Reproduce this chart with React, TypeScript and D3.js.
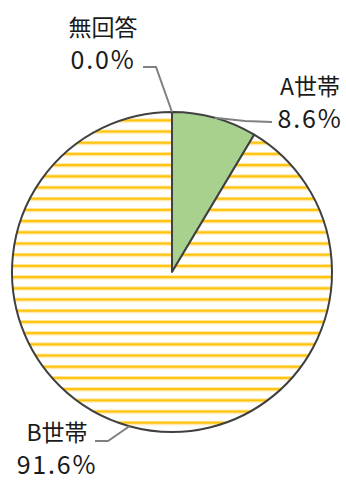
import React from "react";
import * as d3 from "d3";

const categories = ["A世帯", "B世帯", "無回答"];
const values = [8.6, 91.6, 0.0];
const valueLabels = ["8.6%", "91.6%", "0.0%"];

const W = 346;
const H = 481;
const cx = 172;
const cy = 272;
const R = 160;

// label layout: text anchor center, first baseline, leader elbow and end
const labelLayout = [
  { tx: 310, ty: 95, gap: 33, elbow: [245, 121], end: [272, 122] },
  { tx: 57, ty: 441, gap: 33, elbow: [108, 441], end: [95, 441] },
  { tx: 103, ty: 36, gap: 33, elbow: [156, 67], end: [143, 67] },
];

export default function App() {
  const pie = d3
    .pie<number>()
    .sort(null)
    .value((d) => d)
    .startAngle(0)
    .endAngle(2 * Math.PI);
  const arcs = pie(values);
  const arc = d3.arc<d3.PieArcDatum<number>>().innerRadius(0).outerRadius(R);
  const fills = ["#A9D18E", "url(#stripes)", "#ffffff"];
  const lineGen = d3.line();

  return (
    <svg width={W} height={H} style={{ position: "absolute", left: 0, top: 0 }}>
      <defs>
        <pattern id="stripes" patternUnits="userSpaceOnUse" width={20} height={11.2} y={cy}>
          <rect x={0} y={0} width={20} height={11.2} fill="#ffffff" />
          <rect x={0} y={0} width={20} height={1} fill="#FFE699" />
          <rect x={0} y={1} width={20} height={2.2} fill="#FFC000" />
          <rect x={0} y={3.2} width={20} height={1} fill="#FFE699" />
        </pattern>
      </defs>
      <g transform={`translate(${cx},${cy})`}>
        {arcs.map((a, i) =>
          a.endAngle - a.startAngle > 0 ? (
            <path key={i} d={arc(a) || ""} fill={fills[i]} stroke="#404040" strokeWidth={2} strokeLinejoin="round" />
          ) : null
        )}
      </g>
      {arcs.map((a, i) => {
        const mid = (a.startAngle + a.endAngle) / 2;
        const px = cx + R * Math.sin(mid);
        const py = cy - R * Math.cos(mid);
        const L = labelLayout[i];
        return (
          <g key={"l" + i}>
            <path
              d={lineGen([[px, py], L.elbow as [number, number], L.end as [number, number]]) || ""}
              fill="none"
              stroke="#808080"
              strokeWidth={2}
            />
            <text
              x={L.tx}
              y={L.ty}
              textAnchor="middle"
              fontFamily="'Noto Sans CJK JP', 'Noto Sans', sans-serif"
              fontSize={23}
              fill="#1a1a1a"
            >
              {categories[i]}
            </text>
            <text
              x={L.tx}
              y={L.ty + L.gap}
              textAnchor="middle"
              fontFamily="'Noto Sans CJK JP', 'Noto Sans', sans-serif"
              fontSize={25}
              letterSpacing={1.8}
              fill="#1a1a1a"
            >
              {valueLabels[i]}
            </text>
          </g>
        );
      })}
    </svg>
  );
}
